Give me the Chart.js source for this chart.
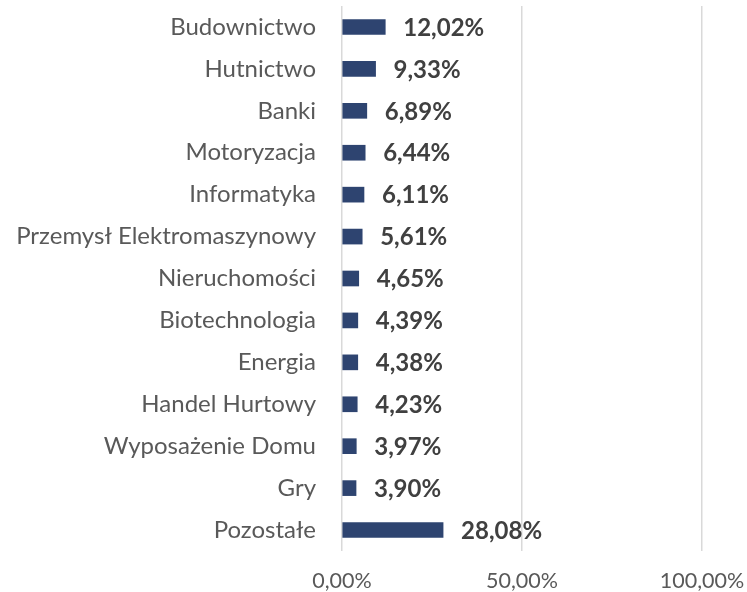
<!DOCTYPE html>
<html><head><meta charset="utf-8">
<script src="https://cdn.jsdelivr.net/npm/chart.js@4/dist/chart.umd.min.js"></script>
<style>html,body{margin:0;padding:0;background:#fff}#wrap{width:747px;height:592px}</style>
</head><body><div id="wrap"><canvas id="c" width="747" height="592"></canvas></div>
<script>
const categories = ["Budownictwo","Hutnictwo","Banki","Motoryzacja","Informatyka","Przemysł Elektromaszynowy","Nieruchomości","Biotechnologia","Energia","Handel Hurtowy","Wyposażenie Domu","Gry","Pozostałe"];
const shares = [12.02,9.33,6.89,6.44,6.11,5.61,4.65,4.39,4.38,4.23,3.97,3.90,28.08];
const tickValues = [0,50,100];

const fmt = v => v.toFixed(2).replace('.', ',') + '%';
const FONT = 'Lato, "Open Sans", sans-serif';

const labelPlugin = {
  id: 'valLabels',
  afterDatasetsDraw(chart) {
    const ctx = chart.ctx;
    const meta = chart.getDatasetMeta(0);
    ctx.save();
    ctx.font = 'bold 24px ' + FONT;
    ctx.fillStyle = '#404040';
    ctx.textBaseline = 'middle';
    ctx.textAlign = 'left';
    meta.data.forEach((bar, i) => {
      ctx.fillText(fmt(shares[i]), bar.x + 18, bar.y + 1);
    });
    ctx.restore();
  }
};

new Chart(document.getElementById('c'), {
  type: 'bar',
  data: { labels: categories, datasets: [{ data: shares, backgroundColor: '#2E4470', barThickness: 15 }] },
  options: {
    indexAxis: 'y', responsive: false, animation: false,
    layout: { padding: { top: 6, right: 45, left: 0, bottom: 0 } },
    plugins: { legend: { display: false }, tooltip: { enabled: false } },
    scales: {
      x: {
        min: 0, max: 100,
        afterBuildTicks: s => { s.ticks = tickValues.map(v => ({ value: v })); },
        afterFit: s => { s.height = 41; s.paddingLeft = 0; s.paddingRight = 0; },
        grid: { color: '#d9d9d9', lineWidth: 1.5, drawTicks: false },
        border: { display: false },
        ticks: { padding: 17, color: '#595959', font: { family: FONT, size: 21.5 }, callback: v => fmt(v) }
      },
      y: {
        afterFit: s => { s.width = 342; s.paddingTop = 0; s.paddingBottom = 0; },
        grid: { display: false, drawTicks: false },
        border: { display: false },
        ticks: { padding: 26, color: '#595959', font: { family: FONT, size: 24 } }
      }
    }
  },
  plugins: [labelPlugin]
});
</script></body></html>
